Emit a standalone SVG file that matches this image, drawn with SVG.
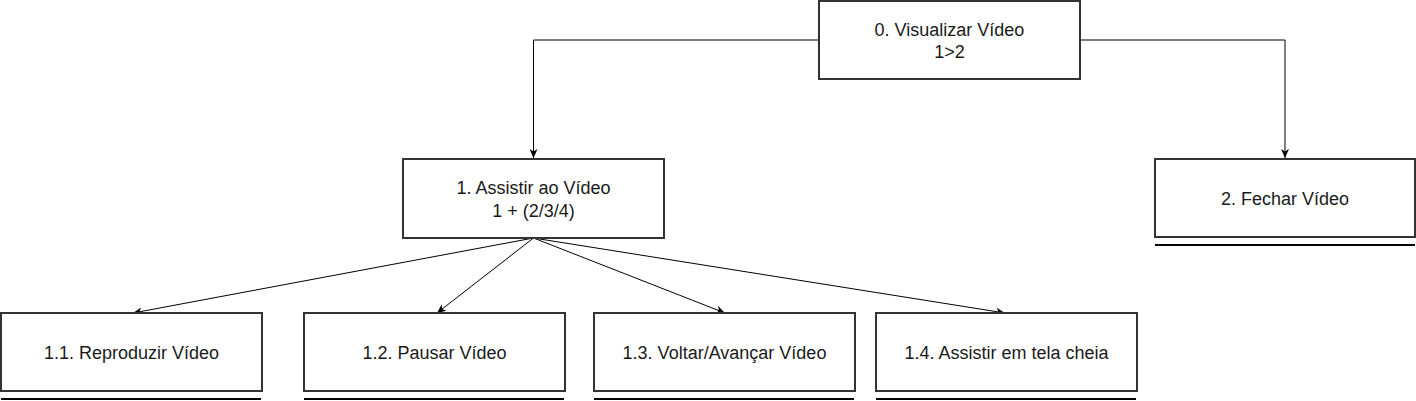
<svg xmlns="http://www.w3.org/2000/svg" width="1416" height="401" viewBox="0 0 1416 401">
<style>
.box{fill:#fff;stroke:#333;stroke-width:2}
.ul{stroke:#000;stroke-width:2}
.lbl{font-family:"Liberation Sans",Arial,sans-serif;font-size:18px;fill:#1a1a1a;text-anchor:middle}
.c{fill:none;stroke:#000;stroke-width:1}
</style>
<defs>
<marker id="arr" markerUnits="userSpaceOnUse" markerWidth="10" markerHeight="10" viewBox="0 0 10 10" refX="9" refY="5" orient="auto">
<path d="M0,1 L9,5 L0,9 L2.5,5 z" fill="#000"/>
</marker>
</defs>
<rect width="1416" height="401" fill="#fff"/>
<g id="connectors">
<polyline class="c" points="819,40 533.5,40 533.5,158" marker-end="url(#arr)"/>
<polyline class="c" points="1080,40 1285,40 1285,158" marker-end="url(#arr)"/>
<line class="c" x1="533.5" y1="238" x2="133" y2="313" marker-end="url(#arr)"/>
<line class="c" x1="533.5" y1="238" x2="437" y2="313" marker-end="url(#arr)"/>
<line class="c" x1="533.5" y1="238" x2="725" y2="313" marker-end="url(#arr)" stroke="#333"/>
<line class="c" x1="533.5" y1="238" x2="1005" y2="313" marker-end="url(#arr)"/>
</g>
<g id="n0">
<rect class="box" x="819" y="1" width="261" height="78"/>
<text class="lbl" x="949.5" y="36">0. Visualizar Vídeo</text>
<text class="lbl" x="949.5" y="58">1&gt;2</text>
</g>
<g id="n1">
<rect class="box" x="403" y="159" width="261" height="79"/>
<text class="lbl" x="533.5" y="194">1. Assistir ao Vídeo</text>
<text class="lbl" x="533.5" y="217">1 + (2/3/4)</text>
</g>
<g id="n2">
<rect class="box" x="1155" y="159" width="260" height="78"/>
<text class="lbl" x="1285" y="205">2. Fechar Vídeo</text>
<line class="ul" x1="1155" y1="245" x2="1415" y2="245"/>
</g>
<g id="n11">
<rect class="box" x="1" y="313" width="261" height="78"/>
<text class="lbl" x="131.5" y="359">1.1. Reproduzir Vídeo</text>
<line class="ul" x1="1" y1="399" x2="261" y2="399"/>
</g>
<g id="n12">
<rect class="box" x="304" y="313" width="261" height="78"/>
<text class="lbl" x="434.5" y="359">1.2. Pausar Vídeo</text>
<line class="ul" x1="304" y1="399" x2="564" y2="399"/>
</g>
<g id="n13">
<rect class="box" x="594" y="313" width="261" height="78"/>
<text class="lbl" x="724.5" y="359">1.3. Voltar/Avançar Vídeo</text>
<line class="ul" x1="594" y1="399" x2="854" y2="399"/>
</g>
<g id="n14">
<rect class="box" x="876" y="313" width="261" height="78"/>
<text class="lbl" x="1006.5" y="359">1.4. Assistir em tela cheia</text>
<line class="ul" x1="876" y1="399" x2="1136" y2="399"/>
</g>
</svg>
